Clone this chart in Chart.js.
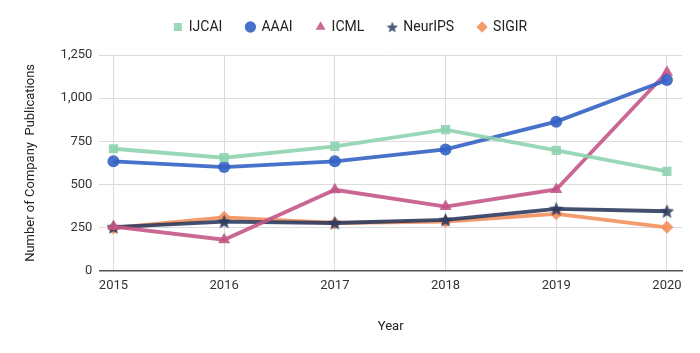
<!DOCTYPE html>
<html><head><meta charset="utf-8">
<script src="https://cdn.jsdelivr.net/npm/chart.js@4"></script>
<style>html,body{margin:0;padding:0;background:#fff}#wrap{width:700px;height:353px}</style>
</head><body><div id="wrap"><canvas id="c"></canvas></div>
<script>
const years = [2015, 2016, 2017, 2018, 2019, 2020];
const ijcai = [707, 655, 721, 818, 698, 576];
const aaai = [634, 601, 634, 703, 864, 1105];
const icml = [256, 180, 469, 372, 471, 1150];
const neurips = [253, 285, 277, 295, 359, 345];
const sigir = [248, 310, 277, 285, 330, 252];
const yTicks = [0, 250, 500, 750, 1000, 1250];

function starImg(color, size) {
  const c = document.createElement('canvas');
  c.width = size; c.height = size;
  const g = c.getContext('2d');
  const cx = size / 2, cy = size / 2 + 0.6, R = size / 2, r = R * 0.45;
  g.beginPath();
  for (let i = 0; i < 10; i++) {
    const rad = i % 2 === 0 ? R : r;
    const a = -Math.PI / 2 + i * Math.PI / 5;
    const px = cx + rad * Math.cos(a), py = cy + rad * Math.sin(a);
    if (i === 0) g.moveTo(px, py); else g.lineTo(px, py);
  }
  g.closePath();
  g.fillStyle = color; g.fill();
  return c;
}
const starPlot = starImg('rgba(46,60,95,0.9)', 15);
const starLegend = starImg('rgba(60,74,110,0.9)', 12);

function pts(arr) { return arr.map((v, i) => ({ x: years[i], y: v })); }

const series = [
  { label: 'IJCAI', data: ijcai, color: 'rgba(143,211,176,0.9)', style: 'rect', r: 6.5 },
  { label: 'AAAI', data: aaai, color: 'rgba(52,98,196,0.9)', style: 'circle', r: 6 },
  { label: 'ICML', data: icml, color: 'rgba(196,86,134,0.9)', style: 'triangle', r: 7 },
  { label: 'NeurIPS', data: neurips, color: 'rgba(46,60,95,0.9)', style: starPlot, r: 7 },
  { label: 'SIGIR', data: sigir, color: 'rgba(243,144,94,0.9)', style: 'rectRot', r: 6.5 }
];

const legendGap = {
  id: 'legendGap',
  beforeInit(chart) {
    const lg = chart.legend;
    const orig = lg.fit;
    lg.fit = function () { orig.call(this); this.height += 11; };
  }
};

new Chart(document.getElementById('c'), {
  type: 'line',
  data: {
    datasets: series.map(s => ({
      label: s.label,
      data: pts(s.data),
      borderColor: s.color,
      backgroundColor: s.color,
      pointBackgroundColor: s.color,
      pointBorderColor: s.color,
      borderWidth: 3.8,
      pointStyle: s.style,
      pointRadius: s.r,
      pointBorderWidth: 0,
      tension: 0
    }))
  },
  plugins: [legendGap],
  options: {
    responsive: true,
    maintainAspectRatio: false,
    animation: false,
    layout: { padding: { left: 19, right: 18, top: -4, bottom: 14 } },
    plugins: {
      legend: {
        position: 'top',
        labels: {
          usePointStyle: true,
          boxWidth: 8,
          boxHeight: 8,
          padding: 24,
          color: '#222',
          font: { family: 'Roboto', size: 14 },
          generateLabels(chart) {
            return chart.data.datasets.map((d, i) => ({
              text: d.label,
              fillStyle: d.backgroundColor,
              strokeStyle: d.backgroundColor,
              lineWidth: 0,
              pointStyle: i === 3 ? starLegend : d.pointStyle,
              datasetIndex: i,
              hidden: false,
              fontColor: '#222'
            }));
          }
        }
      },
      tooltip: { enabled: false }
    },
    scales: {
      x: {
        type: 'linear',
        min: 2014.873,
        max: 2020.136,
        ticks: {
          stepSize: 1,
          includeBounds: false,
          color: '#333',
          font: { family: 'Roboto', size: 13 },
          padding: 7,
          callback: v => String(v)
        },
        grid: { color: '#dcdcdc', lineWidth: 1, drawTicks: false },
        border: { display: true, color: '#555', width: 1.5 },
        title: { display: true, text: 'Year', color: '#222', font: { family: 'Roboto', size: 13 }, padding: { top: 19 } }
      },
      y: {
        min: 0,
        max: 1250,
        afterBuildTicks(axis) { axis.ticks = yTicks.map(v => ({ value: v })); },
        ticks: {
          color: '#333',
          font: { family: 'Roboto', size: 13 },
          padding: 7
        },
        grid: { color: '#dcdcdc', lineWidth: 1, drawTicks: false },
        border: { display: false },
        title: { display: true, text: 'Number of Company  Publications', color: '#222', font: { family: 'Roboto', size: 13 }, padding: { bottom: 15 } }
      }
    }
  }
});
</script></body></html>
